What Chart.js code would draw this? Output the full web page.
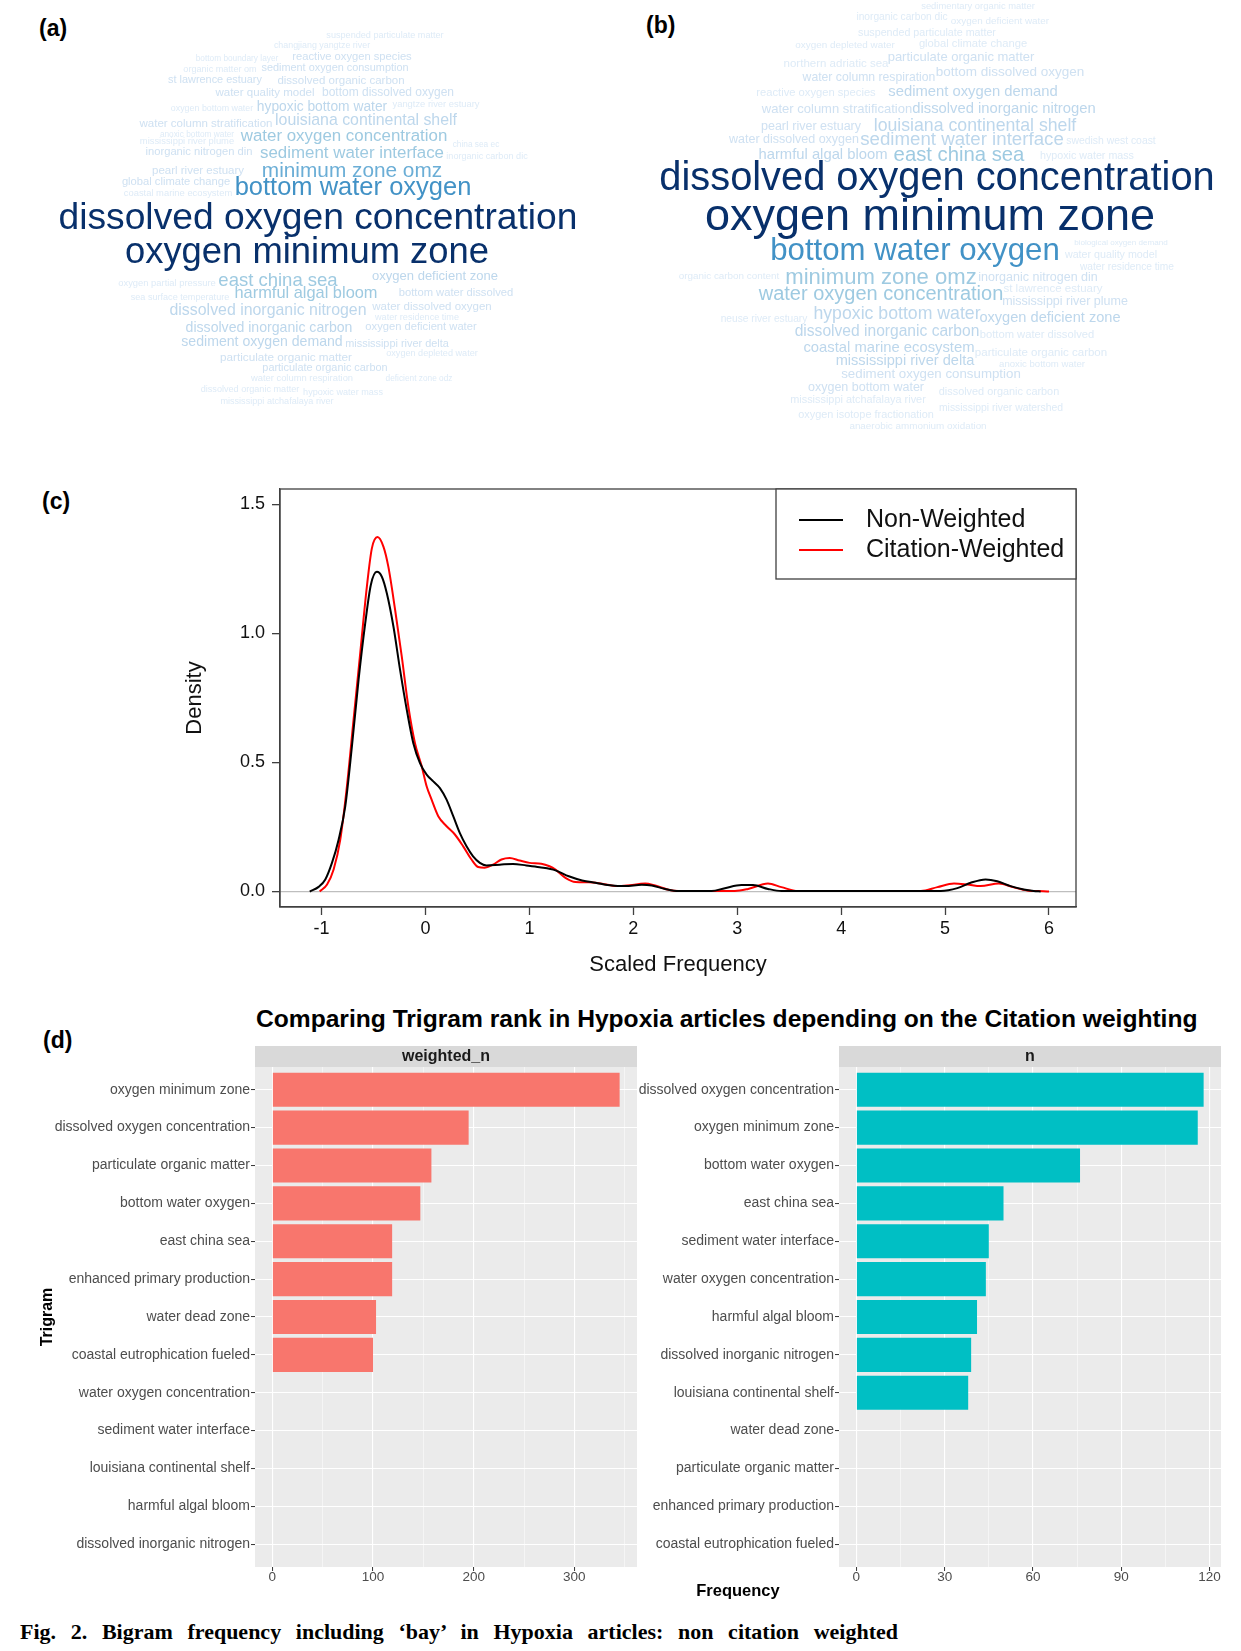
<!DOCTYPE html>
<html>
<head>
<meta charset="utf-8">
<title>Fig. 2</title>
<script src="https://cdn.jsdelivr.net/npm/chart.js@4.4.1/dist/chart.umd.min.js"></script>
<style>
  html, body { margin: 0; padding: 0; background: #fff; }
  body { position: relative; width: 1241px; height: 1651px; overflow: hidden; font-family: "Liberation Sans", Arial, sans-serif; }
  canvas { position: absolute; }
  .panel { position: absolute; font-weight: bold; font-size: 23px; line-height: 23px; color: #000; }
  #title { position: absolute; left: 256px; top: 1007px; font-weight: bold; font-size: 24.6px; line-height: 24px; color: #000; white-space: nowrap; }
  #xtitle { position: absolute; left: 638px; width: 200px; top: 1580px; text-align: center; font-weight: bold; font-size: 16.5px; line-height: 20px; color: #000; }
  #caption { position: absolute; left: 20px; width: 878px; top: 1621px; font-family: "Liberation Serif", "Times New Roman", serif; font-weight: bold; font-size: 22px; line-height: 22px; text-align: justify; text-align-last: justify; white-space: nowrap; }
</style>
</head>
<body>
<div class="panel" style="left:39px;top:17px">(a)</div>
<div class="panel" style="left:646px;top:14px">(b)</div>
<div class="panel" style="left:42px;top:490px">(c)</div>
<div class="panel" style="left:43px;top:1029px">(d)</div>

<canvas id="cloudA" width="620" height="440" style="left:0;top:0"></canvas>
<canvas id="cloudB" width="621" height="440" style="left:620px;top:0"></canvas>
<canvas id="density" width="960" height="530" style="left:150px;top:460px"></canvas>

<div id="title">Comparing Trigram rank in Hypoxia articles depending on the Citation weighting</div>
<canvas id="barW" width="640" height="570" style="left:0;top:1030px"></canvas>
<canvas id="barN" width="621" height="570" style="left:620px;top:1030px"></canvas>
<div id="xtitle">Frequency</div>
<div id="caption">Fig. 2. Bigram frequency including ‘bay’ in Hypoxia articles: non citation weighted</div>

<script>
// ---------- (a) word cloud, non weighted ----------
var cloudAWords = [
  'suspended particulate matter', 'changjiang yangtze river', 'bottom boundary layer', 'reactive oxygen species',
  'organic matter om', 'sediment oxygen consumption', 'st lawrence estuary', 'dissolved organic carbon',
  'water quality model', 'bottom dissolved oxygen', 'oxygen bottom water', 'hypoxic bottom water',
  'yangtze river estuary', 'water column stratification', 'louisiana continental shelf', 'anoxic bottom water',
  'water oxygen concentration', 'mississippi river plume', 'china sea ec', 'inorganic nitrogen din',
  'sediment water interface', 'inorganic carbon dic', 'pearl river estuary', 'minimum zone omz',
  'global climate change', 'bottom water oxygen', 'coastal marine ecosystem', 'dissolved oxygen concentration',
  'oxygen minimum zone', 'oxygen partial pressure', 'east china sea', 'oxygen deficient zone',
  'harmful algal bloom', 'sea surface temperature', 'bottom water dissolved', 'dissolved inorganic nitrogen',
  'water dissolved oxygen', 'water residence time', 'dissolved inorganic carbon', 'oxygen deficient water',
  'sediment oxygen demand', 'mississippi river delta', 'particulate organic matter', 'oxygen depleted water',
  'particulate organic carbon', 'water column respiration', 'deficient zone odz', 'dissolved organic matter',
  'hypoxic water mass', 'mississippi atchafalaya river'
];
var cloudAFreq = [
  12, 11, 9, 20, 12, 19, 19, 21, 21, 23, 11, 30,
  13, 21, 38, 9, 42, 13, 9, 20, 42, 12, 21, 57,
  20, 75, 13, 120, 117, 13, 48, 27, 40, 12, 20, 38,
  21, 12, 31, 20, 31, 19, 22, 12, 19, 13, 9, 12,
  12, 12
];
// placement of each word (page pixels, centre of the lower-case letters)
var cloudALayout = [
  [385,36],[322,46],[237,59],[352,57],[220,70],[335,68],[215,80],[341,81],
  [265,93],[388,93],[212,109],[322,107],[436,105],[206,124],[366,120.5],[197,135],
  [344,136.5],[187,142],[476,145],[199,152],[352,153.5],[487,157],[198,171],[352,172],
  [176,182],[353,188.5],[178,194],[318,219.5],[307,254],[167,284],[278,281],[435,277],
  [306,293.5],[180,298],[456,293],[268,310.5],[432,307],[417,318],[269,328],[421,327],
  [262,342],[397,344],[286,358],[432,354],[325,368],[302,379],[419,379],[250,390],
  [343,393],[277,402]
];

// ---------- (b) word cloud, citation weighted ----------
var cloudBWords = [
  'sedimentary organic matter', 'inorganic carbon dic', 'oxygen deficient water', 'suspended particulate matter',
  'oxygen depleted water', 'global climate change', 'northern adriatic sea', 'particulate organic matter',
  'water column respiration', 'bottom dissolved oxygen', 'reactive oxygen species', 'sediment oxygen demand',
  'water column stratification', 'dissolved inorganic nitrogen', 'pearl river estuary', 'louisiana continental shelf',
  'water dissolved oxygen', 'sediment water interface', 'swedish west coast', 'harmful algal bloom',
  'east china sea', 'hypoxic water mass', 'dissolved oxygen concentration', 'oxygen minimum zone',
  'biological oxygen demand', 'bottom water oxygen', 'water quality model', 'water residence time',
  'organic carbon content', 'minimum zone omz', 'inorganic nitrogen din', 'st lawrence estuary',
  'water oxygen concentration', 'mississippi river plume', 'neuse river estuary', 'hypoxic bottom water',
  'oxygen deficient zone', 'dissolved inorganic carbon', 'bottom water dissolved', 'coastal marine ecosystem',
  'particulate organic carbon', 'mississippi river delta', 'anoxic bottom water', 'sediment oxygen consumption',
  'oxygen bottom water', 'dissolved organic carbon', 'mississippi atchafalaya river', 'mississippi river watershed',
  'oxygen isotope fractionation', 'anaerobic ammonium oxidation'
];
var cloudBFreq = [
  13, 16, 15, 18, 15, 20, 21, 27, 24, 29, 20, 34,
  27, 34, 25, 45, 25, 49, 17, 34, 55, 18, 130, 150,
  8, 97, 18, 16, 15, 62, 25, 21, 54, 25, 16, 45,
  33, 37, 20, 34, 21, 33, 14, 28, 25, 19, 19, 17,
  19, 15
];
var cloudBLayout = [
  [978,7],[902,17],[1000,21],[927,33],[845,45],[973,44],[836,64],[961,58],
  [869,78],[1010,72],[816,93],[973,92.5],[837,110],[1004,109.5],[811,127],[975,126],
  [794,140],[962,140],[1111,141],[823,155.5],[959,156],[1087,156],[937,180],[930,218],
  [1121,243],[915,251.5],[1111,255],[1127,267],[729,276],[881,278],[1038,278],[1053,289],
  [881,295],[1065,302],[764,319],[897,314],[1050,318.5],[887,331.5],[1037,335],[889,348.5],
  [1041,353],[905,361.5],[1042,364],[931,375],[866,388],[999,392],[858,400],[1001,408],
  [866,415],[918,426]
];

// ---------- (c) density of scaled frequency ----------
var nonWeightedX = [-1.114,-1.028,-0.964,-0.900,-0.836,-0.772,-0.708,-0.644,-0.580,-0.526,-0.468,-0.420,-0.372,-0.308,
  -0.244,-0.180,-0.117,-0.053,0.011,0.075,0.139,0.203,0.267,0.331,0.395,0.458,0.523,0.587,0.714,0.842,0.970,1.098,
  1.251,1.379,1.507,1.635,1.795,1.922,2.082,2.178,2.306,2.433,2.753,2.881,3.041,3.152,3.296,3.425,4.959,5.118,
  5.246,5.390,5.502,5.630,5.757,5.853,5.920];
var nonWeightedY = [0,0.018,0.047,0.111,0.201,0.330,0.562,0.820,1.039,1.188,1.239,1.220,1.156,1.026,
  0.858,0.704,0.575,0.498,0.453,0.427,0.401,0.356,0.292,0.226,0.175,0.136,0.111,0.101,0.104,0.107,0.101,0.094,
  0.082,0.059,0.043,0.034,0.023,0.021,0.026,0.023,0.010,0.002,0.002,0.013,0.025,0.025,0.010,0.002,0.002,0.013,
  0.034,0.047,0.040,0.021,0.008,0.002,0];
var citedX = [-1.018,-0.947,-0.884,-0.820,-0.756,-0.692,-0.628,-0.564,-0.516,-0.462,-0.404,-0.357,-0.292,-0.228,
  -0.165,-0.101,-0.036,0.011,0.059,0.123,0.203,0.283,0.363,0.443,0.507,0.570,0.650,0.731,0.810,0.906,1.002,1.114,
  1.194,1.251,1.347,1.443,1.571,1.699,1.843,1.939,2.114,2.210,2.338,2.433,2.977,3.105,3.296,3.425,3.584,4.767,
  4.926,5.086,5.214,5.342,5.518,5.662,5.789,5.949,6.000];
var citedY = [0,0.027,0.085,0.201,0.408,0.666,0.924,1.182,1.330,1.374,1.336,1.258,1.091,0.910,
  0.717,0.575,0.485,0.408,0.356,0.292,0.253,0.221,0.175,0.124,0.095,0.092,0.104,0.124,0.130,0.120,0.111,0.108,
  0.098,0.085,0.053,0.037,0.036,0.030,0.021,0.023,0.031,0.023,0.007,0.002,0.002,0.010,0.031,0.017,0.002,0.002,
  0.017,0.031,0.027,0.021,0.031,0.016,0.004,0.001,0];
var densityXTicks = [-1, 0, 1, 2, 3, 4, 5, 6];
var densityYTicks = [0, 0.5, 1, 1.5];

// ---------- (d) trigram rank ----------
var trigramsWeighted = ['oxygen minimum zone', 'dissolved oxygen concentration', 'particulate organic matter',
  'bottom water oxygen', 'east china sea', 'enhanced primary production', 'water dead zone',
  'coastal eutrophication fueled', 'water oxygen concentration', 'sediment water interface',
  'louisiana continental shelf', 'harmful algal bloom', 'dissolved inorganic nitrogen'];
var weightedN = [345, 195, 158, 147, 119, 119, 103, 100, null, null, null, null, null];
var trigramsN = ['dissolved oxygen concentration', 'oxygen minimum zone', 'bottom water oxygen', 'east china sea',
  'sediment water interface', 'water oxygen concentration', 'harmful algal bloom', 'dissolved inorganic nitrogen',
  'louisiana continental shelf', 'water dead zone', 'particulate organic matter', 'enhanced primary production',
  'coastal eutrophication fueled'];
var countN = [118, 116, 76, 50, 45, 44, 41, 39, 38, null, null, null, null];
var weightedBreaks = [0, 100, 200, 300];
var countBreaks = [0, 30, 60, 90, 120];

Chart.defaults.font.family = '"Liberation Sans", Arial, sans-serif';
Chart.defaults.animation = false;

function blues(r) {
  if (r >= 0.75) return '#08306B';
  if (r >= 0.55) return '#4292C6';
  if (r >= 0.45) return '#6BAED6';
  if (r >= 0.33) return '#9ECAE1';
  if (r >= 0.22) return '#BDD7EC';
  if (r >= 0.15) return '#CFE1F2';
  return '#DEEBF7';
}

function drawCloud(id, words, freq, layout, x0, x1) {
  var fmax = Math.max.apply(null, freq);
  new Chart(document.getElementById(id), {
    type: 'scatter',
    data: {
      datasets: [{
        data: layout.map(function(p) { return {x: p[0], y: p[1]}; }),
        pointRadius: 0
      }]
    },
    options: {
      responsive: false,
      events: [],
      layout: {padding: 0},
      plugins: {legend: {display: false}, tooltip: {enabled: false}},
      scales: {
        x: {type: 'linear', display: false, min: x0, max: x1},
        y: {type: 'linear', display: false, min: 0, max: 440, reverse: true}
      }
    },
    plugins: [{
      id: 'wordText',
      afterDatasetsDraw: function(chart) {
        var ctx = chart.ctx;
        var pts = chart.getDatasetMeta(0).data;
        ctx.save();
        ctx.textAlign = 'center';
        ctx.textBaseline = 'alphabetic';
        for (var i = 0; i < pts.length; i++) {
          // font size grows with the bigram count
          var size = 6 + 0.26 * freq[i];
          ctx.font = size.toFixed(1) + 'px "Liberation Sans", Arial, sans-serif';
          ctx.fillStyle = blues(freq[i] / fmax);
          ctx.fillText(words[i], pts[i].x, pts[i].y + 0.26 * size);
        }
        ctx.restore();
      }
    }]
  });
}

drawCloud('cloudA', cloudAWords, cloudAFreq, cloudALayout, 0, 620);
drawCloud('cloudB', cloudBWords, cloudBFreq, cloudBLayout, 620, 1241);

// density plot, base R look
function pairs(xs, ys) {
  return xs.map(function(x, i) { return {x: x, y: ys[i]}; });
}
var axisGrey = '#404040';
new Chart(document.getElementById('density'), {
  type: 'scatter',
  data: {
    datasets: [
      {label: 'Non-Weighted', data: pairs(nonWeightedX, nonWeightedY), borderColor: '#000000', borderWidth: 2,
        showLine: true, pointRadius: 0, cubicInterpolationMode: 'monotone'},
      {label: 'Citation-Weighted', data: pairs(citedX, citedY), borderColor: '#FF0000', borderWidth: 2,
        showLine: true, pointRadius: 0, cubicInterpolationMode: 'monotone'}
    ]
  },
  options: {
    responsive: false,
    events: [],
    layout: {padding: {top: 29, right: 34, left: 0, bottom: 0}},
    plugins: {legend: {display: false}, tooltip: {enabled: false}},
    scales: {
      x: {
        type: 'linear', min: -1.40, max: 6.26,
        afterBuildTicks: function(axis) { axis.ticks = densityXTicks.map(function(v) { return {value: v}; }); },
        afterFit: function(axis) { axis.height = 83; },
        ticks: {color: '#111', font: {size: 18}, padding: 3, callback: function(v) { return String(v); }},
        grid: {drawOnChartArea: false, drawTicks: true, tickLength: 8, tickColor: axisGrey, tickWidth: 1.3},
        border: {display: true, color: axisGrey, width: 1.3},
        title: {display: true, text: 'Scaled Frequency', color: '#111', font: {size: 22}, padding: {top: 0, bottom: 12}}
      },
      y: {
        type: 'linear', min: -0.06, max: 1.56,
        afterBuildTicks: function(axis) { axis.ticks = densityYTicks.map(function(v) { return {value: v}; }); },
        afterFit: function(axis) { axis.width = 130; },
        ticks: {color: '#111', font: {size: 18}, padding: 7, callback: function(v) { return v.toFixed(1); }},
        grid: {
          drawOnChartArea: true, drawTicks: true, tickLength: 8, tickColor: axisGrey, tickWidth: 1.3,
          color: function(c) { return c.tick && c.tick.value === 0 ? '#BEBEBE' : 'rgba(0,0,0,0)'; },
          lineWidth: 1.3
        },
        border: {display: true, color: axisGrey, width: 1.3},
        title: {display: true, text: 'Density', color: '#111', font: {size: 22}, padding: {top: 32, bottom: 0}}
      }
    }
  },
  plugins: [{
    id: 'rBox',
    afterDraw: function(chart) {
      var ctx = chart.ctx, a = chart.chartArea;
      ctx.save();
      ctx.strokeStyle = axisGrey;
      ctx.lineWidth = 1.3;
      ctx.strokeRect(a.left, a.top, a.right - a.left, a.bottom - a.top);
      // legend box in the top right corner
      var lx = a.right - 300, ly = a.top;
      ctx.fillStyle = '#fff';
      ctx.fillRect(lx, ly, 300, 90);
      ctx.strokeRect(lx, ly, 300, 90);
      ctx.font = '25px "Liberation Sans", Arial, sans-serif';
      ctx.textBaseline = 'middle';
      ctx.textAlign = 'left';
      chart.data.datasets.forEach(function(ds, i) {
        var yy = ly + 31 + i * 30;
        ctx.strokeStyle = ds.borderColor;
        ctx.lineWidth = 2;
        ctx.beginPath();
        ctx.moveTo(lx + 23, yy);
        ctx.lineTo(lx + 67, yy);
        ctx.stroke();
        ctx.fillStyle = '#111';
        ctx.fillText(ds.label, lx + 90, yy);
      });
      ctx.restore();
    }
  }]
});

// ggplot style facet panels
function minorBreaks(breaks, lo, hi) {
  var step = breaks[1] - breaks[0], out = [];
  breaks.forEach(function(b) {
    if (b - step / 2 > lo && out.indexOf(b - step / 2) < 0) out.push(b - step / 2);
    if (b + step / 2 < hi) out.push(b + step / 2);
  });
  return out;
}

function facet(id, cats, vals, color, strip, breaks, xmin, xmax, yWidth, padRight, yTitle) {
  var minor = minorBreaks(breaks, xmin, xmax);
  var all = breaks.concat(minor).sort(function(a, b) { return a - b; });
  var pts = [];
  vals.forEach(function(v, i) { if (v !== null) pts.push({x: v, y: i + 1}); });
  new Chart(document.getElementById(id), {
    type: 'bar',
    data: {datasets: [{label: strip, data: pts, backgroundColor: color, barPercentage: 0.9, categoryPercentage: 1.0}]},
    options: {
      indexAxis: 'y',
      responsive: false,
      events: [],
      layout: {padding: {top: 37, right: padRight, left: 0, bottom: 0}},
      plugins: {legend: {display: false}, tooltip: {enabled: false}},
      scales: {
        x: {
          type: 'linear', min: xmin, max: xmax,
          afterBuildTicks: function(axis) { axis.ticks = all.map(function(v) { return {value: v}; }); },
          afterFit: function(axis) { axis.height = 33; },
          ticks: {color: '#4D4D4D', font: {size: 13.5, lineHeight: 1}, padding: 0, autoSkip: false, maxRotation: 0,
            callback: function(v) { return breaks.indexOf(v) >= 0 ? String(v) : ''; }},
          grid: {
            color: '#FFFFFF',
            lineWidth: function(c) { return c.tick && breaks.indexOf(c.tick.value) >= 0 ? 1.1 : 0.5; },
            drawTicks: true, tickLength: 4, tickWidth: 1,
            tickColor: function(c) { return c.tick && breaks.indexOf(c.tick.value) >= 0 ? '#333333' : 'rgba(0,0,0,0)'; }
          },
          border: {display: false}
        },
        y: {
          type: 'linear', min: 0.4, max: cats.length + 0.6, reverse: true, offset: false,
          afterBuildTicks: function(axis) { axis.ticks = cats.map(function(c, i) { return {value: i + 1}; }); },
          afterFit: function(axis) { axis.width = yWidth; },
          ticks: {color: '#4D4D4D', font: {size: 14}, padding: 1, autoSkip: false,
            callback: function(v) { return cats[Math.round(v) - 1] || ''; }},
          grid: {offset: false, color: '#FFFFFF', lineWidth: 1.1, drawTicks: true, tickLength: 4,
            tickColor: '#333333', tickWidth: 1},
          border: {display: false},
          title: {display: !!yTitle, text: yTitle || '', color: '#000', font: {size: 16, weight: 'bold'},
            padding: {top: 38, bottom: 0}}
        }
      }
    },
    plugins: [{
      id: 'panelBg',
      beforeDraw: function(chart) {
        var ctx = chart.ctx, a = chart.chartArea;
        ctx.save();
        ctx.fillStyle = '#EBEBEB';
        ctx.fillRect(a.left, a.top, a.right - a.left, a.bottom - a.top);
        ctx.fillStyle = '#D9D9D9';
        ctx.fillRect(a.left, a.top - 21, a.right - a.left, 21);
        ctx.fillStyle = '#1A1A1A';
        ctx.font = 'bold 16px "Liberation Sans", Arial, sans-serif';
        ctx.textAlign = 'center';
        ctx.textBaseline = 'middle';
        ctx.fillText(chart.data.datasets[0].label, (a.left + a.right) / 2, a.top - 10);
        ctx.restore();
      }
    }]
  });
}

facet('barW', trigramsWeighted, weightedN, '#F8766D', 'weighted_n', weightedBreaks, -17.25, 362.25, 255, 3, 'Trigram');
facet('barN', trigramsN, countN, '#00BFC4', 'n', countBreaks, -5.9, 123.9, 219, 20, null);
</script>
</body>
</html>
